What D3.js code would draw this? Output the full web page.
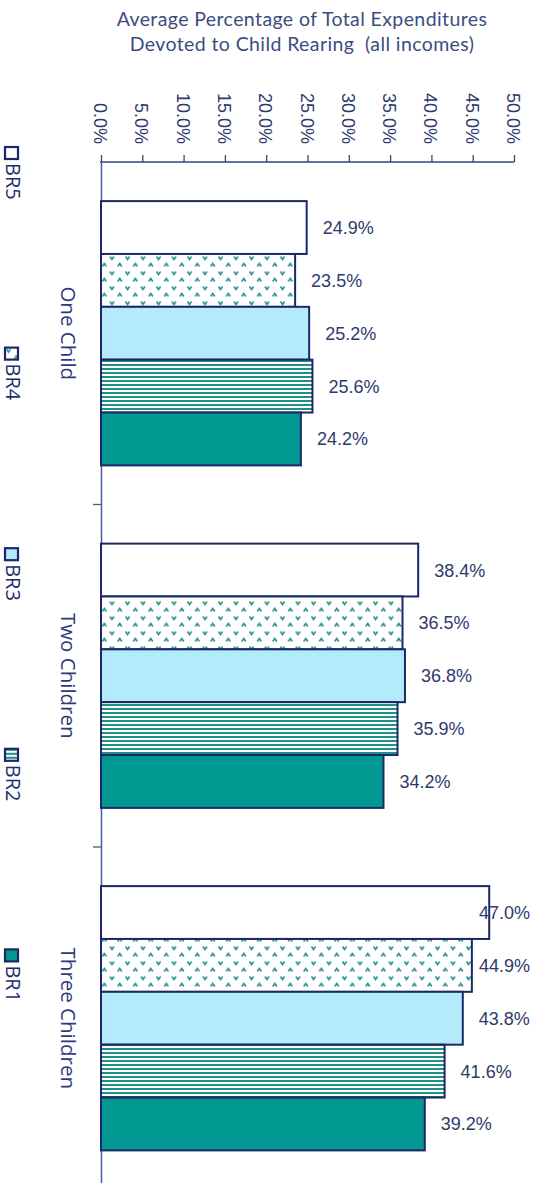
<!DOCTYPE html>
<html>
<head>
<meta charset="utf-8">
<script src="https://d3js.org/d3.v7.min.js"></script>
<style>
  body { margin: 0; background: #fff; }
  svg { display: block; }
  .tick-label { font-family: "Liberation Sans", Arial, sans-serif; font-size: 18px; fill: #2e3a6e; }
  .value-label { font-family: "Liberation Sans", Arial, sans-serif; font-size: 18px; fill: #2e3a6e; }
  .cat-label { font-family: "Open Sans", sans-serif; font-size: 20.5px; fill: #2e3a7d; }
  .legend-label { font-family: "Open Sans", sans-serif; font-size: 20px; fill: #1f2d6e; }
  .title { font-family: Lato, sans-serif; font-size: 19.5px; letter-spacing: 0.4px; fill: #3b4d80; white-space: pre; }
</style>
</head>
<body>
<svg width="538" height="1183"></svg>
<script>
// data
var categories = ["One Child", "Two Children", "Three Children"];
var seriesNames = ["BR5", "BR4", "BR3", "BR2", "BR1"];
var br5 = [24.9, 38.4, 47.0];
var br4 = [23.5, 36.5, 44.9];
var br3 = [25.2, 36.8, 43.8];
var br2 = [25.6, 35.9, 41.6];
var br1 = [24.2, 34.2, 39.2];
var tickValues = [0, 5, 10, 15, 20, 25, 30, 35, 40, 45, 50];
var titleLines = ["Average Percentage of Total Expenditures", "Devoted to Child Rearing  (all incomes)"];

var seriesValues = { BR5: br5, BR4: br4, BR3: br3, BR2: br2, BR1: br1 };

var svg = d3.select("svg");
var navy = "#1c2866";

// patterns
var defs = svg.append("defs");
var dots = defs.append("pattern")
    .attr("id", "dots").attr("patternUnits", "userSpaceOnUse")
    .attr("width", 15.5).attr("height", 15);
dots.append("rect").attr("width", 15.5).attr("height", 15).attr("fill", "#fff");
dots.append("path").attr("d", "M1.5,1.5 L3.5,4.5 L5.5,1.5")
    .attr("fill", "none").attr("stroke", "#22958e").attr("stroke-width", 1.6);
dots.append("path").attr("d", "M9.3,11.5 L11.3,8.5 L13.3,11.5")
    .attr("fill", "none").attr("stroke", "#22958e").attr("stroke-width", 1.6);

var stripes = defs.append("pattern")
    .attr("id", "stripes").attr("patternUnits", "userSpaceOnUse")
    .attr("width", 8).attr("height", 4);
stripes.append("rect").attr("width", 8).attr("height", 4).attr("fill", "#fff");
stripes.append("rect").attr("width", 8).attr("height", 2).attr("fill", "#1f8f89");

var fills = { BR5: "#ffffff", BR4: "url(#dots)", BR3: "#b3eafc", BR2: "url(#stripes)", BR1: "#009890" };

// scales
var x = d3.scaleLinear().domain([0, 50]).range([101, 514]);
var y = d3.scaleBand().domain(categories).range([162, 162 + 3 * 342.5]);
var yInner = d3.scaleBand().domain(seriesNames).range([0, y.bandwidth()]).paddingOuter(0.74);

// title
svg.selectAll(".title").data(titleLines).enter().append("text")
    .attr("class", "title")
    .attr("x", 302)
    .attr("y", function(d, i) { return 26 + i * 25; })
    .attr("text-anchor", "middle")
    .text(function(d) { return d; });

// top axis
var axisTop = svg.append("g").attr("transform", "translate(0,162)")
    .call(d3.axisTop(x).tickValues(tickValues).tickSize(7).tickFormat(""));
axisTop.select(".domain").attr("stroke", "#2f4680").attr("stroke-width", 1.6).attr("d", "M" + (x(0) - 1) + ",0H" + x(50));
axisTop.selectAll(".tick line").attr("stroke", "#2f4680").attr("stroke-width", 1.3);

svg.selectAll(".tick-label").data(tickValues).enter().append("text")
    .attr("class", "tick-label")
    .attr("text-anchor", "end")
    .attr("transform", function(d) { return "translate(" + (x(d) - 7) + ",144) rotate(90)"; })
    .text(function(d) { return d.toFixed(1) + "%"; });

// left axis
var axisLeft = svg.append("g").attr("transform", "translate(" + x(0) + ",0)")
    .call(d3.axisLeft(y).tickValues([]).tickSizeOuter(0));
axisLeft.select(".domain").attr("stroke", "#4a5ea0").attr("stroke-width", 1.5);
var catTicks = categories.map(function(c) { return y(c); }).slice(1);
svg.selectAll(".cat-tick").data(catTicks).enter().append("line")
    .attr("class", "cat-tick")
    .attr("x1", x(0) - 8).attr("x2", x(0))
    .attr("y1", function(d) { return d; }).attr("y2", function(d) { return d; })
    .attr("stroke", "#4a5a80").attr("stroke-width", 1.3);

// category labels
svg.selectAll(".cat-label").data(categories).enter().append("text")
    .attr("class", "cat-label")
    .attr("text-anchor", "middle")
    .attr("transform", function(d) { return "translate(61," + (y(d) + y.bandwidth() / 2) + ") rotate(90)"; })
    .text(function(d) { return d; });

// bars
var rows = [];
categories.forEach(function(c, ci) {
  seriesNames.forEach(function(s) {
    rows.push({ cat: c, series: s, value: seriesValues[s][ci] });
  });
});

svg.append("g").selectAll("rect").data(rows).enter().append("rect")
    .attr("x", x(0))
    .attr("y", function(d) { return y(d.cat) + yInner(d.series); })
    .attr("width", function(d) { return x(d.value) - x(0); })
    .attr("height", yInner.bandwidth())
    .attr("fill", function(d) { return fills[d.series]; })
    .attr("stroke", navy)
    .attr("stroke-width", 2);

svg.append("g").selectAll("text").data(rows).enter().append("text")
    .attr("class", "value-label")
    .attr("x", function(d) { return Math.min(x(d.value) + 16, 479); })
    .attr("y", function(d) { return y(d.cat) + yInner(d.series) + yInner.bandwidth() / 2; })
    .attr("dy", "0.36em")
    .text(function(d) { return d.value.toFixed(1) + "%"; });

// legend
var legend = svg.append("g").selectAll("g").data(seriesNames).enter().append("g")
    .attr("transform", function(d, i) { return "translate(5," + (147 + i * 200.6) + ")"; });
legend.append("rect")
    .attr("width", 13).attr("height", 12)
    .attr("fill", function(d) { return fills[d]; })
    .attr("stroke", navy).attr("stroke-width", 2.2);
legend.append("text")
    .attr("class", "legend-label")
    .attr("transform", "translate(1,16) rotate(90)")
    .text(function(d) { return d; });
</script>
</body>
</html>
